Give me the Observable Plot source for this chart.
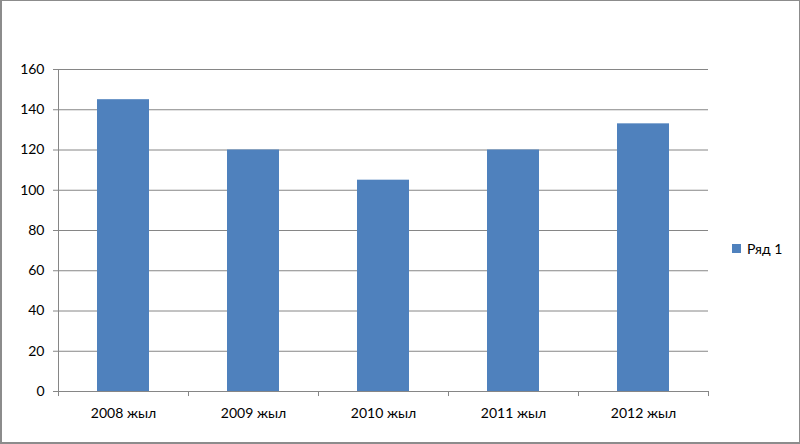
<!DOCTYPE html>
<html>
<head>
<meta charset="utf-8">
<script src="https://cdn.jsdelivr.net/npm/d3@7"></script>
<script src="https://cdn.jsdelivr.net/npm/@observablehq/plot@0.6"></script>
<style>
  html, body { margin: 0; padding: 0; background: #fff; }
  #wrap { position: relative; width: 800px; height: 444px; overflow: hidden; font-family: Lato, "Open Sans", sans-serif; }
  #border { position: absolute; left: 0; top: 0; width: 800px; height: 444px; box-sizing: border-box; border: 1px solid #8c8c8c; border-left-width: 2px; border-bottom-width: 2px; pointer-events: none; }
  #legend { position: absolute; left: 732px; top: 240px; font-size: 14px; color: #000; display: flex; align-items: center; white-space: nowrap; }
  #legend .sw { width: 9px; height: 9px; margin-right: 6px; }
</style>
</head>
<body>
<div id="wrap">
  <div id="chart"></div>
  <div id="legend"><span class="sw"></span><span id="legend-label"></span></div>
  <div id="border"></div>
</div>
<script>
const categories = ["2008 жыл", "2009 жыл", "2010 жыл", "2011 жыл", "2012 жыл"];
const values = [145, 120, 105, 120, 133];
const seriesName = "Ряд 1";
const yTicks = [0, 20, 40, 60, 80, 100, 120, 140, 160];
const barColor = "#4F81BD";
const gridColor = "#868686";

const data = categories.map((c, i) => ({year: c, value: values[i]}));

const W = 800, H = 444;
const ml = 58, mr = 92, mt = 69, mb = 53;
const step = (W - ml - mr) / categories.length;

const chart = Plot.plot({
  width: W,
  height: H,
  marginLeft: ml,
  marginRight: mr,
  marginTop: mt,
  marginBottom: mb,
  style: {fontFamily: "Lato, 'Open Sans', sans-serif", fontSize: "13px", color: "#000", background: "transparent"},
  x: {domain: categories, paddingInner: 0.6, paddingOuter: 0.3, label: null},
  y: {domain: [0, 160], label: null},
  marks: [
    Plot.gridY(yTicks, {stroke: gridColor, strokeOpacity: 1}),
    Plot.barY(data, {x: "year", y: "value", fill: barColor}),
    Plot.ruleY([0], {stroke: gridColor}),
    Plot.axisY(yTicks, {tickSize: 5, tickPadding: 9, stroke: gridColor, fill: "#000", fontSize: 14, label: null}),
    Plot.ruleX(categories, {dx: -step / 2, y1: 0, y2: -2.5, stroke: gridColor}),
    Plot.ruleX([categories[categories.length - 1]], {dx: step / 2, y1: 0, y2: -2.5, stroke: gridColor}),
    Plot.axisX({tickSize: 0, tickPadding: 17, fill: "#000", fontSize: 14, label: null}),
    Plot.ruleX([categories[0]], {dx: -step / 2, y1: 0, y2: 160, stroke: gridColor})
  ]
});
document.getElementById("chart").appendChild(chart);
document.querySelector("#legend .sw").style.background = barColor;
document.getElementById("legend-label").textContent = seriesName;
</script>
</body>
</html>
